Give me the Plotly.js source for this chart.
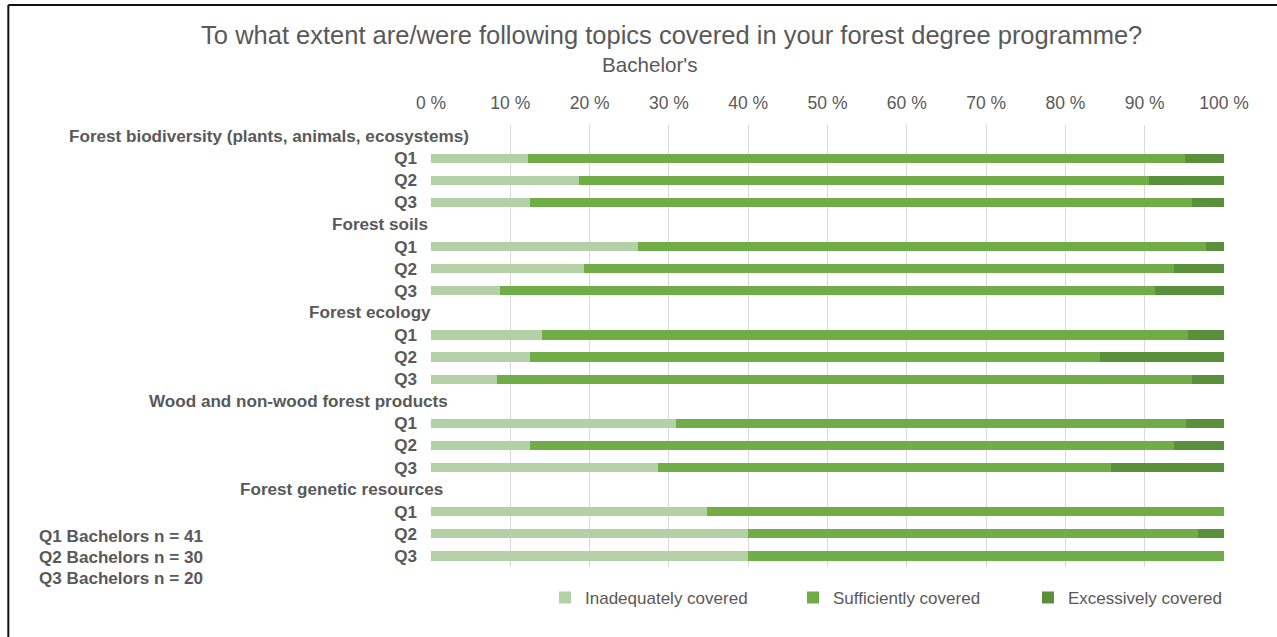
<!DOCTYPE html>
<html>
<head>
<meta charset="utf-8">
<script src="https://cdn.plot.ly/plotly-3.0.1.min.js"></script>
<style>
  html, body { margin: 0; padding: 0; background: #ffffff; }
  #chart { width: 1277px; height: 637px; }
</style>
</head>
<body>
<div id="chart"></div>
<script>
// ---- Data (percent of respondents) ----
const topics = [
  "Forest biodiversity (plants, animals, ecosystems)",
  "Forest soils",
  "Forest ecology",
  "Wood and non-wood forest products",
  "Forest genetic resources"
];
const questions = ["Q1", "Q2", "Q3"];
const seriesNames = ["Inadequately covered", "Sufficiently covered", "Excessively covered"];

// values in order: topic 1 Q1..Q3, topic 2 Q1..Q3, ...
const inadequate = [12.2, 18.7, 12.5,  26.1, 19.3, 8.7,  14.0, 12.5, 8.3,  30.9, 12.5, 28.6,  34.8, 40.0, 40.0];
const sufficient = [82.9, 71.9, 83.5,  71.6, 74.4, 82.6,  81.4, 71.9, 87.7,  64.3, 81.2, 57.1,  65.2, 56.7, 60.0];
const excessive  = [ 4.9,  9.4,  4.0,   2.3,  6.3,  8.7,   4.6, 15.6,  4.0,   4.8,  6.3, 14.3,   0.0,  3.3,  0.0];

const sampleSizes = [41, 30, 20];
const xTicks = [0, 10, 20, 30, 40, 50, 60, 70, 80, 90, 100];

const colors = ["#b4d0a6", "#70ad47", "#5a8f3b"];
const textColor = "#595959";
const FONT = "Liberation Sans, Arial, Helvetica, sans-serif";
const LABEL_SIZE = 17.1;

// ---- Build category slots: header slot + Q rows per topic ----
const slots = [];
const barY = [];
const tickVals = [];
const tickText = [];
topics.forEach((t, ti) => {
  slots.push("H" + ti);
  questions.forEach(q => {
    const id = "T" + ti + "_" + q;
    slots.push(id);
    barY.push(id);
    tickVals.push(id);
    tickText.push("<b>" + q + "</b>");
  });
});

const legendIds = ["legend", "legend2", "legend3"];
const seriesValues = [inadequate, sufficient, excessive];
const traces = seriesValues.map((vals, i) => ({
  type: "bar",
  orientation: "h",
  name: seriesNames[i],
  legend: legendIds[i],
  x: vals,
  y: barY,
  width: 0.42,
  marker: { color: colors[i], line: { width: 0 } },
  hovertemplate: "%{x:.1f} %<extra>" + seriesNames[i] + "</extra>"
}));

// header label right edges (paper coords relative to plot area)
const headerRight = [0.0504, -0.0013, 0.0025, 0.024, 0.0177];

const annotations = [];
topics.forEach((t, ti) => {
  annotations.push({
    text: "<b>" + t + "</b>",
    xref: "paper", yref: "y",
    x: headerRight[ti], y: "H" + ti,
    xanchor: "right", yanchor: "middle",
    showarrow: false,
    font: { family: FONT, size: LABEL_SIZE, color: textColor }
  });
});
const noteY = [0.0679, 0.0204, -0.0271];
sampleSizes.forEach((n, i) => {
  annotations.push({
    text: "<b>" + questions[i] + " Bachelors n = " + n + "</b>",
    xref: "paper", yref: "paper",
    x: -0.4968, y: noteY[i],
    xanchor: "left", yanchor: "middle",
    showarrow: false,
    font: { family: FONT, size: LABEL_SIZE, color: textColor }
  });
});
annotations.push({
  text: "Bachelor's",
  xref: "paper", yref: "paper",
  x: 0.276, y: 1.138,
  xanchor: "center", yanchor: "middle",
  showarrow: false,
  font: { family: FONT, size: 20.6, color: textColor }
});

const legendBase = {
  orientation: "h",
  xanchor: "left",
  y: -0.07, yanchor: "middle",
  font: { family: FONT, size: 17, color: textColor },
  itemwidth: 30,
  bgcolor: "rgba(0,0,0,0)"
};
const legendX = [0.1438, 0.4565, 0.7528];

const layout = {
  width: 1277,
  height: 637,
  paper_bgcolor: "#ffffff",
  plot_bgcolor: "#ffffff",
  barmode: "stack",
  margin: { l: 431, r: 53, t: 125, b: 70 },
  font: { family: FONT, color: textColor },
  title: {
    text: "To what extent are/were following topics covered in your forest degree programme?",
    x: 0.526, xanchor: "center",
    y: 0.945, yref: "container", yanchor: "middle",
    font: { family: FONT, size: 25.5, color: textColor }
  },
  xaxis: {
    side: "top",
    range: [0, 100],
    tickvals: xTicks,
    ticktext: xTicks.map(v => v + " %"),
    showgrid: true,
    gridcolor: "#d9d9d9",
    gridwidth: 1,
    zeroline: false,
    showline: false,
    ticks: "",
    ticklabelstandoff: 12,
    fixedrange: true,
    tickfont: { family: FONT, size: 17.5, color: textColor }
  },
  yaxis: {
    type: "category",
    categoryorder: "array",
    categoryarray: slots,
    range: [slots.length - 0.5, -0.5],
    tickvals: tickVals,
    ticktext: tickText,
    showgrid: false,
    zeroline: false,
    showline: false,
    ticks: "",
    ticklabelstandoff: 13,
    fixedrange: true,
    tickfont: { family: FONT, size: LABEL_SIZE, color: textColor }
  },
  legend:  Object.assign({}, legendBase, { x: legendX[0] }),
  legend2: Object.assign({}, legendBase, { x: legendX[1] }),
  legend3: Object.assign({}, legendBase, { x: legendX[2] }),
  annotations: annotations,
  shapes: [
    { type: "line", xref: "paper", yref: "paper", x0: -0.533, x1: 1.2, y0: 1.2715, y1: 1.2715,
      line: { color: "#111111", width: 2 } },
    { type: "line", xref: "paper", yref: "paper", x0: -0.533, x1: -0.533, y0: 1.2715, y1: -0.2,
      line: { color: "#111111", width: 2 } }
  ],
  showlegend: true
};

Plotly.newPlot("chart", traces, layout, { displayModeBar: false, staticPlot: false });
</script>
</body>
</html>
